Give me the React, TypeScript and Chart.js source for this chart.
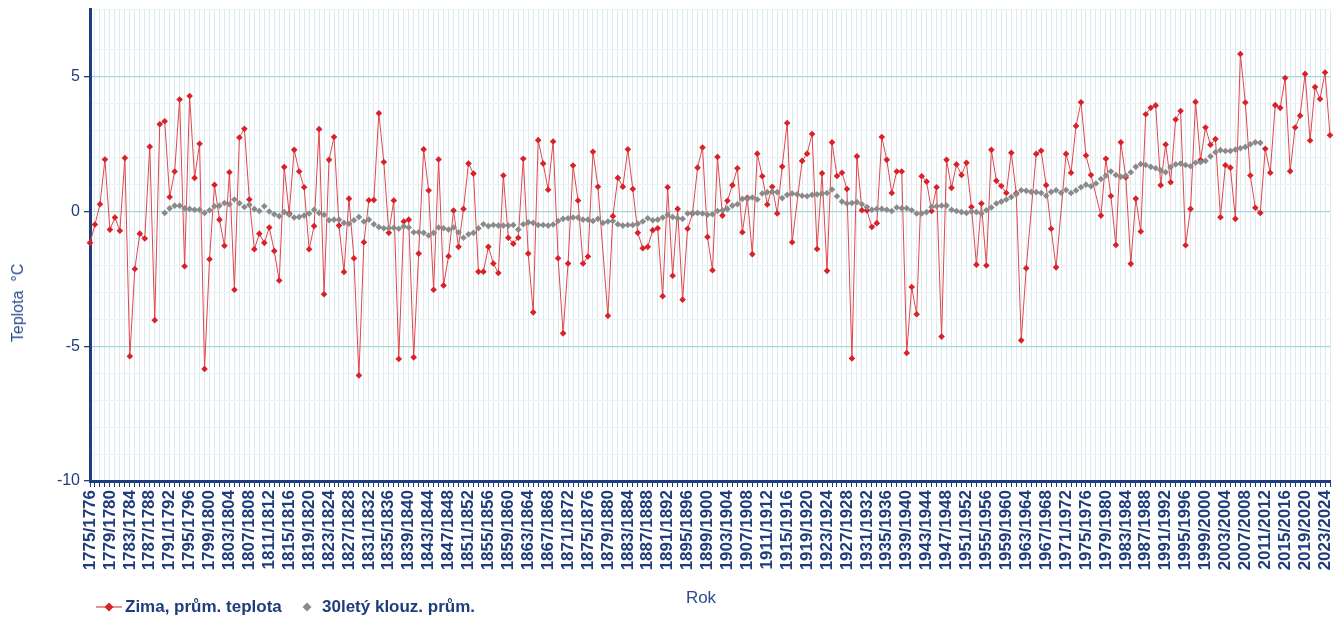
import React, { useEffect, useRef } from 'react';
import { Chart, registerables } from 'chart.js';

Chart.register(...registerables);

// ---- data ----
const START_YEAR = 1775;
const YEAR_COUNT = 250;
const categories: string[] = Array.from({ length: YEAR_COUNT }, (_, i) => `${START_YEAR + i}/${START_YEAR + i + 1}`);

// Winter mean temperature (°C); null = no marker drawn in the source
const winterMean: (number | null)[] = [
  -1.16, -0.48, 0.27, 1.93, -0.67, -0.22, -0.71, 1.99, -5.37, -2.13,
  -0.82, -1.0, 2.41, -4.03, 3.24, 3.35, 0.54, 1.49, 4.16, -2.03,
  4.29, 1.25, 2.52, -5.84, -1.77, 0.99, -0.3, -1.27, 1.46, -2.9,
  2.75, 3.07, 0.45, -1.4, -0.82, -1.16, -0.59, -1.46, -2.56, 1.65,
  -0.07, 2.29, 1.49, 0.9, -1.4, -0.54, 3.06, -3.07, 1.92, 2.77,
  -0.52, -2.24, 0.48, -1.73, -6.08, -1.14, 0.42, 0.43, 3.65, 1.84,
  -0.79, 0.41, -5.47, -0.37, -0.3, -5.41, -1.56, 2.31, 0.78, -2.9,
  1.93, -2.74, -1.66, 0.04, -1.31, 0.1, 1.78, 1.41, -2.23, -2.23,
  -1.31, -1.93, -2.28, 1.34, -0.97, -1.19, -0.97, 1.96, -1.56, -3.74,
  2.65, 1.78, 0.81, 2.6, -1.73, -4.52, -1.93, 1.71, 0.41, -1.93,
  -1.67, 2.22, 0.92, null, -3.87, -0.17, 1.25, 0.92, 2.31, 0.84,
  -0.79, -1.36, -1.31, -0.69, -0.62, -3.14, 0.9, -2.38, 0.1, -3.27,
  -0.64, -0.07, 1.63, 2.38, -0.94, -2.18, 2.03, -0.15, 0.4, 0.98,
  1.61, -0.77, 0.51, -1.58, 2.15, 1.31, 0.26, 0.92, -0.07, 1.67,
  3.29, -1.14, null, 1.88, 2.15, 2.88, -1.39, 1.42, -2.2, 2.57,
  1.32, 1.44, 0.84, -5.45, 2.05, 0.05, 0.04, -0.57, -0.43, 2.77,
  1.92, 0.69, 1.49, 1.49, -5.25, -2.8, -3.81, 1.31, 1.11, 0.02,
  0.9, -4.64, 1.92, 0.88, 1.75, 1.36, 1.81, 0.17, -1.97, 0.3,
  -2.0, 2.29, 1.14, 0.95, 0.69, 2.18, 0.68, -4.78, -2.1, null,
  2.14, 2.26, 0.98, -0.64, -2.07, null, 2.14, 1.44, 3.18, 4.06,
  2.08, 1.36, null, -0.15, 1.96, 0.58, -1.24, 2.57, 1.27, -1.94,
  0.48, -0.74, 3.61, 3.85, 3.94, 0.98, 2.49, 1.09, 3.42, 3.73,
  -1.25, 0.1, 4.07, 1.91, 3.12, 2.48, 2.69, -0.21, 1.72, 1.63,
  -0.27, 5.85, 4.05, 1.34, 0.14, -0.05, 2.33, 1.44, 3.95, 3.85,
  4.96, 1.5, 3.12, 3.56, 5.11, 2.64, 4.62, 4.18, 5.16, 2.83,
];

// 30-year moving average, first value belongs to 1790/1791
const MOVING_AVG_START_INDEX = 15;
const movingAvg: number[] = [
  -0.05, 0.12, 0.22, 0.22, 0.12, 0.1, 0.07, 0.07, -0.05, 0.05,
  0.2, 0.22, 0.32, 0.27, 0.45, 0.31, 0.17, 0.25, 0.1, 0.02,
  0.2, 0.0, -0.1, -0.17, -0.02, -0.12, -0.22, -0.2, -0.15, -0.07,
  0.07, -0.05, -0.12, -0.32, -0.3, -0.3, -0.42, -0.45, -0.32, -0.2,
  -0.37, -0.3, -0.47, -0.57, -0.62, -0.62, -0.6, -0.64, -0.55, -0.59,
  -0.77, -0.77, -0.79, -0.89, -0.79, -0.59, -0.62, -0.67, -0.59, -0.77,
  -0.97, -0.84, -0.79, -0.62, -0.47, -0.54, -0.5, -0.52, -0.52, -0.52,
  -0.5, -0.67, -0.47, -0.4, -0.42, -0.5, -0.5, -0.52, -0.48, -0.35,
  -0.27, -0.25, -0.22, -0.22, -0.3, -0.3, -0.35, -0.27, -0.42, -0.37,
  -0.35, -0.47, -0.52, -0.5, -0.5, -0.45, -0.37, -0.25, -0.32, -0.3,
  -0.22, -0.12, -0.2, -0.25, -0.27, -0.07, -0.05, -0.05, -0.07, -0.12,
  -0.1, 0.02, 0.05, 0.1, 0.22, 0.27, 0.47, 0.47, 0.52, 0.45,
  0.67, 0.72, 0.74, 0.72, 0.5, 0.62, 0.67, 0.64, 0.59, 0.57,
  0.62, 0.64, 0.67, 0.69, 0.82, 0.57, 0.37, 0.3, 0.32, 0.35,
  0.27, 0.17, 0.07, 0.1, 0.1, 0.07, 0.02, 0.15, 0.12, 0.12,
  0.05, -0.07, -0.07, -0.02, 0.17, 0.2, 0.22, 0.22, 0.07, 0.02,
  -0.02, -0.05, 0.0, -0.02, -0.07, 0.05, 0.15, 0.3, 0.37, 0.45,
  0.54, 0.64, 0.79, 0.77, 0.73, 0.72, 0.69, 0.59, 0.73, 0.79,
  0.7, 0.8, 0.69, 0.78, 0.9, 1.0, 0.94, 1.04, 1.21, 1.33,
  1.49, 1.36, 1.29, 1.34, 1.46, 1.66, 1.76, 1.73, 1.66, 1.61,
  1.53, 1.46, 1.65, 1.75, 1.78, 1.73, 1.68, 1.81, 1.83, 1.88,
  2.05, 2.2, 2.28, 2.25, 2.25, 2.3, 2.35, 2.4, 2.5, 2.57,
  2.55,
];

const Y_MIN = -10;
const Y_MAX = 7.5;
const Y_MINOR_STEP = 1;
const Y_MAJOR_STEP = 5;
const X_LABEL_EVERY = 4;

const SERIES_LABELS = ['Zima, prům. teplota', '30letý klouz. prům.'];
const Y_TITLE = 'Teplota  °C';
const X_TITLE = 'Rok';

// ---- styles ----
const FONT = '"Liberation Sans", Arial, sans-serif';
const NAVY = '#1f3c7c';
const TITLE_BLUE = '#2d4c8c';
const RED_LINE = '#e0474d';
const RED_MARK = '#d92129';
const GREY = '#8a8a8a';

export default function App() {
  const canvasRef = useRef<HTMLCanvasElement | null>(null);

  useEffect(() => {
    document.body.style.margin = '0';
    const canvas = canvasRef.current;
    if (!canvas) return;
    const greyData = categories.map((_, i) => {
      const k = i - MOVING_AVG_START_INDEX;
      return k >= 0 && k < movingAvg.length ? movingAvg[k] : null;
    });
    const chart = new Chart(canvas, {
      type: 'line',
      data: {
        labels: categories,
        datasets: [
          {
            label: SERIES_LABELS[0],
            data: winterMean,
            borderColor: RED_LINE,
            borderWidth: 1,
            pointStyle: 'rectRot',
            pointRadius: 3.3,
            pointBackgroundColor: RED_MARK,
            pointBorderColor: RED_MARK,
            pointBorderWidth: 0,
            spanGaps: true,
            tension: 0,
            order: 1,
          },
          {
            label: SERIES_LABELS[1],
            data: greyData,
            showLine: false,
            pointStyle: 'rectRot',
            pointRadius: 3.3,
            pointBackgroundColor: GREY,
            pointBorderColor: GREY,
            pointBorderWidth: 0,
            order: 0,
          },
        ],
      },
      options: {
        animation: false,
        responsive: false,
        events: [],
        layout: { padding: { left: 0, right: 14, top: 9.5, bottom: 13 } },
        plugins: { legend: { display: false }, tooltip: { enabled: false } },
        scales: {
          x: {
            grid: {
              color: '#dcebf0',
              lineWidth: 1,
              tickColor: NAVY,
              tickLength: 6,
            },
            border: { color: NAVY, width: 3 },
            ticks: {
              autoSkip: false,
              minRotation: 90,
              maxRotation: 90,
              padding: 3,
              color: NAVY,
              font: { family: FONT, size: 17, weight: 'bold' },
              callback: (_v: any, i: number) => (i % X_LABEL_EVERY === 0 ? categories[i] : ''),
            },
            title: { display: false },
            afterFit: (s: any) => {
              s.height = 129;
              s.paddingLeft = 0;
              s.paddingRight = 0;
            },
          },
          y: {
            min: Y_MIN,
            max: Y_MAX,
            ticks: {
              stepSize: Y_MINOR_STEP,
              color: NAVY,
              padding: 4,
              font: { family: FONT, size: 16 },
              callback: (v: any) => (Number(v) % Y_MAJOR_STEP === 0 ? String(v) : ''),
            },
            grid: {
              color: (ctx: any) =>
                ctx.tick && ctx.tick.value % Y_MAJOR_STEP === 0 ? '#a6d5da' : '#e9f3f6',
              lineWidth: (ctx: any) => (ctx.tick && ctx.tick.value % Y_MAJOR_STEP === 0 ? 1.3 : 1),
              tickColor: (ctx: any) =>
                ctx.tick && ctx.tick.value % Y_MAJOR_STEP === 0 ? NAVY : 'rgba(0,0,0,0)',
              tickLength: 6,
            },
            border: { color: NAVY, width: 3 },
            afterFit: (s: any) => {
              s.width = 90;
              s.paddingTop = 0;
              s.paddingBottom = 0;
            },
          },
        },
      },
    } as any);
    return () => chart.destroy();
  }, []);

  const textStyle: React.CSSProperties = {
    position: 'absolute',
    fontFamily: FONT,
    fontSize: 17,
    lineHeight: '20px',
    fontWeight: 'bold',
    color: NAVY,
    whiteSpace: 'nowrap',
  };

  return (
    <div style={{ position: 'relative', width: 1344, height: 623, background: '#ffffff', overflow: 'hidden' }}>
      <canvas ref={canvasRef} width={1344} height={623} style={{ display: 'block' }} />
      <div
        style={{
          position: 'absolute',
          left: 18,
          top: 303,
          transform: 'translate(-50%, -50%) rotate(-90deg)',
          fontFamily: FONT,
          fontSize: 16,
          color: TITLE_BLUE,
          whiteSpace: 'pre',
        }}
      >
        {Y_TITLE}
      </div>
      <div
        style={{
          position: 'absolute',
          left: 701,
          top: 598,
          transform: 'translate(-50%, -50%)',
          fontFamily: FONT,
          fontSize: 17,
          color: TITLE_BLUE,
          whiteSpace: 'nowrap',
        }}
      >
        {X_TITLE}
      </div>
      <svg style={{ position: 'absolute', left: 96, top: 601 }} width={26} height={12}>
        <line x1={0} y1={6} x2={26} y2={6} stroke={RED_LINE} strokeWidth={1.2} />
        <polygon points="13,1.5 17.5,6 13,10.5 8.5,6" fill={RED_MARK} />
      </svg>
      <div style={{ ...textStyle, left: 125, top: 597 }}>{SERIES_LABELS[0]}</div>
      <svg style={{ position: 'absolute', left: 301, top: 601 }} width={12} height={12}>
        <polygon points="6,1.5 10.5,6 6,10.5 1.5,6" fill={GREY} />
      </svg>
      <div style={{ ...textStyle, left: 322, top: 597 }}>{SERIES_LABELS[1]}</div>
    </div>
  );
}
